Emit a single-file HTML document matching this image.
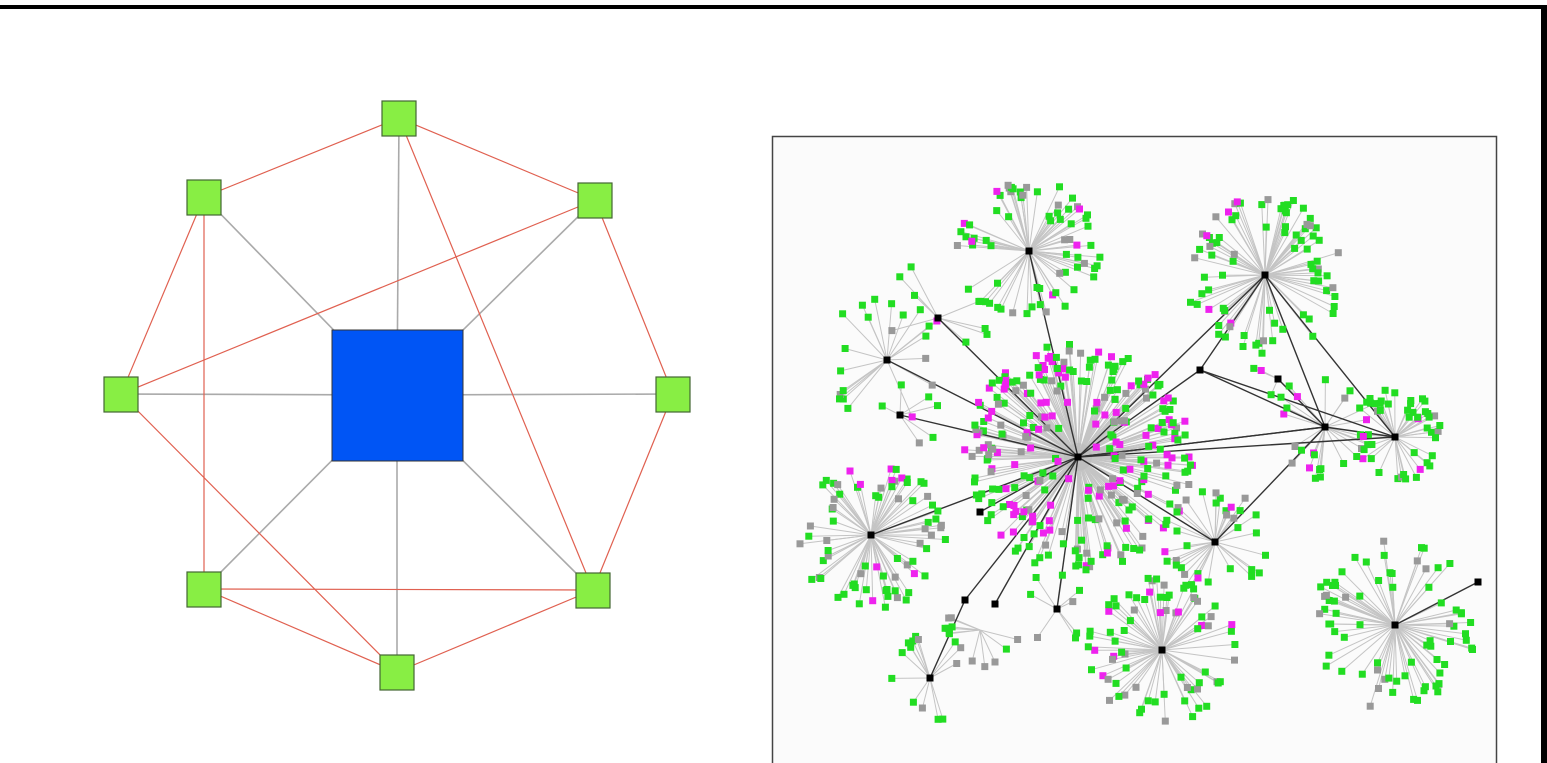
<!DOCTYPE html>
<html><head><meta charset="utf-8"><style>
html,body{margin:0;padding:0;background:#fff;width:1547px;height:763px;overflow:hidden}
svg{display:block}
</style></head><body>
<svg id="s" width="1547" height="763" xmlns="http://www.w3.org/2000/svg">
<rect x="0" y="0" width="1547" height="763" fill="#fff"/>
<rect x="0" y="5" width="1547" height="4" fill="#000"/>
<rect x="1541" y="5" width="6" height="758" fill="#000"/>
<rect x="772.5" y="136.5" width="724" height="640" fill="#fbfbfb" stroke="#444" stroke-width="1.5"/>
<g stroke="#aaa" stroke-width="1.6">
<line x1="397" y1="395" x2="399" y2="118"/><line x1="397" y1="395" x2="204" y2="197"/>
<line x1="397" y1="395" x2="595" y2="200"/><line x1="397" y1="395" x2="121" y2="394"/>
<line x1="397" y1="395" x2="673" y2="394"/><line x1="397" y1="395" x2="204" y2="589"/>
<line x1="397" y1="395" x2="593" y2="590"/><line x1="397" y1="395" x2="397" y2="672"/>
</g>
<g stroke="#e06050" stroke-width="1.2">
<line x1="399" y1="118" x2="204" y2="197"/><line x1="399" y1="118" x2="595" y2="200"/>
<line x1="399" y1="118" x2="593" y2="590"/><line x1="204" y1="197" x2="121" y2="394"/>
<line x1="204" y1="197" x2="204" y2="589"/><line x1="595" y1="200" x2="121" y2="394"/>
<line x1="595" y1="200" x2="673" y2="394"/><line x1="121" y1="394" x2="397" y2="672"/>
<line x1="673" y1="394" x2="593" y2="590"/><line x1="204" y1="589" x2="593" y2="590"/>
<line x1="204" y1="589" x2="397" y2="672"/><line x1="397" y1="672" x2="593" y2="590"/>
</g>
<rect x="332" y="330" width="131" height="131" fill="#0055f5" stroke="#333" stroke-width="1"/>
<g fill="#88ee44" stroke="#446633" stroke-width="1.2">
<rect x="382" y="101" width="34" height="35"/><rect x="187" y="180" width="34" height="35"/>
<rect x="578" y="183" width="34" height="35"/><rect x="104" y="377" width="34" height="35"/>
<rect x="656" y="377" width="34" height="35"/><rect x="187" y="572" width="34" height="35"/>
<rect x="576" y="573" width="34" height="35"/><rect x="380" y="655" width="34" height="35"/>
</g>
<g id="net"></g>
</svg>
<script>
var g=document.getElementById('net');
var seed=7;function r(){seed=(seed*16807)%2147483647;return seed/2147483647;}
var lines='',nodes='',hubs='';
var C=[[1078,457,115,300,0.3,0.15],[1029,251,72,70,0.05,0.4],[1265,275,80,85,0.05,0.4],[871,535,75,75,0.1,0.35],[1395,437,48,45,0.12,0.4],[1215,542,55,35,0.05,0.4],[1162,650,75,75,0.08,0.35],[1395,625,85,75,0.02,0.35],[930,678,45,14,0.1,0.4],[938,318,60,8,0,0.4],[887,360,65,20,0.05,0.4],[900,415,40,6,0.3,0.4],[1057,609,40,8,0,0.4],[980,630,40,12,0,0.4],[1325,427,55,25,0.1,0.4],[1278,379,30,4,0.3,0.4]];
C.forEach(function(c){
 for(var i=0;i<c[3];i++){
  var a=r()*6.283,d=c[2]*(c[5]+(1-c[5])*Math.sqrt(r()));
  var x=c[0]+Math.cos(a)*d,y=c[1]+Math.sin(a)*d;
  if(x<780||x>1490||y<145)continue;
  var q=r(),col=q<c[4]?'#ee22ee':(q<c[4]+0.22?'#999':'#22dd22');
  lines+='<line x1="'+c[0]+'" y1="'+c[1]+'" x2="'+x.toFixed(1)+'" y2="'+y.toFixed(1)+'"/>';
  nodes+='<rect x="'+(x-3.5).toFixed(1)+'" y="'+(y-3.5).toFixed(1)+'" width="7" height="7" fill="'+col+'"/>';
 }
});
var H=[[1078,457],[1029,251],[1265,275],[871,535],[1395,437],[1325,427],[1215,542],[1162,650],[1395,625],[930,678],[938,318],[887,360],[900,415],[980,512],[965,600],[995,604],[1057,609],[1200,370],[1278,379],[1478,582]];
var E=[[0,1],[0,2],[0,3],[0,4],[0,5],[0,6],[0,10],[0,11],[0,12],[0,13],[0,15],[0,16],[0,17],[2,5],[2,4],[2,17],[5,4],[5,6],[17,5],[17,4],[18,5],[14,9],[0,14],[8,19],[5,0]];
var bl='';E.forEach(function(e){bl+='<line x1="'+H[e[0]][0]+'" y1="'+H[e[0]][1]+'" x2="'+H[e[1]][0]+'" y2="'+H[e[1]][1]+'"/>';});
H.forEach(function(h){hubs+='<rect x="'+(h[0]-3.5)+'" y="'+(h[1]-3.5)+'" width="7" height="7" fill="#000"/>';});
g.innerHTML='<g stroke="#c4c4c4" stroke-width="1">'+lines+'</g><circle cx="1078" cy="457" r="14" fill="#bbb" opacity="0.6"/><g stroke="#333" stroke-width="1.4">'+bl+'</g>'+nodes+hubs;
</script>
</body></html>
